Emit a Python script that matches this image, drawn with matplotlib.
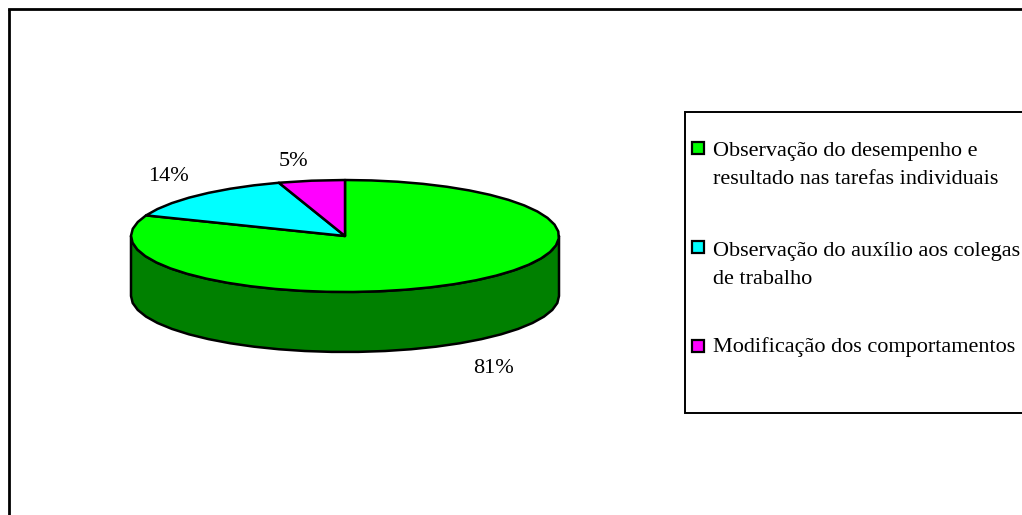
import numpy as np
import matplotlib
matplotlib.use('Agg')
import matplotlib.pyplot as plt
from matplotlib.patches import Polygon, Rectangle

# Pie data
shares = [81, 14, 5]
pct_labels = ['81%', '14%', '5%']
top_colors = ['#00ff00', '#00ffff', '#ff00ff']
legend_labels = ['Observação do desempenho e\nresultado nas tarefas individuais',
                 'Observação do auxílio aos colegas\nde trabalho',
                 'Modificação dos comportamentos']
side_color = '#008000'

plt.rcParams['font.family'] = 'Liberation Serif'

fig = plt.figure(figsize=(10.22, 5.15), dpi=100)
ax = fig.add_axes([0, 0, 1, 1])
ax.set_xlim(0, 1022)
ax.set_ylim(515, 0)
ax.axis('off')

# outer frame, right and bottom edges run off the canvas
ax.plot([8.5, 8.5], [515, 8.5], color='black', lw=2, solid_capstyle='butt')
ax.plot([8.5, 1022], [8.5, 8.5], color='black', lw=2, solid_capstyle='projecting')

cx, cy, rx, ry, depth = 345, 236, 214, 56, 60


def rim(a0, a1, step=7):
    # points on the ellipse, angle measured clockwise from 12 o'clock
    n = max(int(abs(a1 - a0) / step), 1)
    a = np.radians(np.linspace(a0, a1, n + 1))
    return np.column_stack([cx + rx * np.sin(a), cy - ry * np.cos(a)])


# side wall of the cylinder
front = rim(90, 270)
wall = np.vstack([front, (front + [0, depth])[::-1]])
ax.add_patch(Polygon(wall, closed=True, fc=side_color, ec='black', lw=1.8, joinstyle='round'))

# top face slices
start = 0
for val, col in zip(shares, top_colors):
    sweep = 360 * val / sum(shares)
    pts = np.vstack([[cx, cy], rim(start, start + sweep)])
    ax.add_patch(Polygon(pts, closed=True, fc=col, ec='black', lw=1.8, joinstyle='round'))
    start += sweep

# percent labels
ax.text(493, 373, pct_labels[0], fontsize=16, ha='center', va='baseline')
ax.text(168, 181, pct_labels[1], fontsize=16, ha='center', va='baseline')
ax.text(293, 165.5, pct_labels[2], fontsize=16, ha='center', va='baseline')

# legend box
ax.add_patch(Rectangle((684.5, 111.5), 400, 301, fc='white', ec='black', lw=1.4))
key_y = [148, 247, 346]
text_y = [165.5, 265.5, 347]
for col, lab, ky, ty in zip(top_colors, legend_labels, key_y, text_y):
    ax.add_patch(Rectangle((692, ky - 6), 12, 12, fc=col, ec='black', lw=1.6))
    ax.text(713, ty, lab, fontsize=16, ha='left', va='center', linespacing=1.65, clip_on=True)

fig.savefig('out.png', dpi=100)
